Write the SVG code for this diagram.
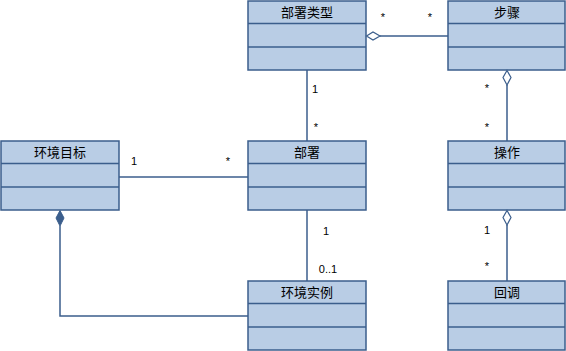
<svg xmlns="http://www.w3.org/2000/svg" width="566" height="351" viewBox="0 0 566 351">
<style>
.box{fill:#b9cde5;stroke:#3b5e8c;stroke-width:1.5}
.sep{stroke:#3b5e8c;stroke-width:1.5}
.t{font-family:"Liberation Sans","Noto Sans CJK SC",sans-serif;font-size:13px;fill:#000;text-anchor:middle}
.m{font-family:"Liberation Sans",Arial,sans-serif;font-size:11px;fill:#000;text-anchor:middle}
.c{fill:none;stroke:#3b5e8c;stroke-width:1.5}
</style>
<rect width="566" height="351" fill="#fff"/>
<g id="bushuleixing">
<rect class="box" x="248" y="1" width="118" height="69"/>
<line class="sep" x1="248" y1="23.5" x2="366" y2="23.5"/>
<line class="sep" x1="248" y1="47" x2="366" y2="47"/>
<text class="t" x="307" y="17">部署类型</text>
</g>
<g id="buzhou">
<rect class="box" x="448" y="1" width="117" height="69"/>
<line class="sep" x1="448" y1="23.5" x2="565" y2="23.5"/>
<line class="sep" x1="448" y1="47" x2="565" y2="47"/>
<text class="t" x="507" y="17">步骤</text>
</g>
<g id="huanjingmubiao">
<rect class="box" x="1" y="141" width="118" height="69"/>
<line class="sep" x1="1" y1="163.5" x2="119" y2="163.5"/>
<line class="sep" x1="1" y1="187" x2="119" y2="187"/>
<text class="t" x="60" y="157">环境目标</text>
</g>
<g id="bushu">
<rect class="box" x="248" y="141" width="118" height="69"/>
<line class="sep" x1="248" y1="163.5" x2="366" y2="163.5"/>
<line class="sep" x1="248" y1="187" x2="366" y2="187"/>
<text class="t" x="307" y="157">部署</text>
</g>
<g id="caozuo">
<rect class="box" x="448" y="141" width="117" height="69"/>
<line class="sep" x1="448" y1="163.5" x2="565" y2="163.5"/>
<line class="sep" x1="448" y1="187" x2="565" y2="187"/>
<text class="t" x="507" y="157">操作</text>
</g>
<g id="huanjingshili">
<rect class="box" x="248" y="281" width="118" height="69"/>
<line class="sep" x1="248" y1="303.5" x2="366" y2="303.5"/>
<line class="sep" x1="248" y1="327" x2="366" y2="327"/>
<text class="t" x="307" y="297">环境实例</text>
</g>
<g id="huidiao">
<rect class="box" x="448" y="281" width="117" height="69"/>
<line class="sep" x1="448" y1="303.5" x2="565" y2="303.5"/>
<line class="sep" x1="448" y1="327" x2="565" y2="327"/>
<text class="t" x="507" y="297">回调</text>
</g>
<g id="connectors">
<path class="c" d="M380,36 H448"/>
<path d="M366.5,36 L373,32 L380,36 L373,40 Z" fill="#fff" stroke="#3b5e8c" stroke-width="1.2"/>
<text class="m" x="383" y="21">*</text>
<text class="m" x="430" y="21">*</text>

<path class="c" d="M507,85 V141"/>
<path d="M507,70.5 L511,77.5 L507,85 L503,77.5 Z" fill="#fff" stroke="#3b5e8c" stroke-width="1.2"/>
<text class="m" x="487" y="92">*</text>
<text class="m" x="487" y="131">*</text>

<path class="c" d="M307,70 V141"/>
<text class="m" x="315" y="93">1</text>
<text class="m" x="316" y="131">*</text>

<path class="c" d="M119,177 H248"/>
<text class="m" x="134" y="165">1</text>
<text class="m" x="228" y="165">*</text>

<path class="c" d="M307,210 V281"/>
<text class="m" x="326" y="235">1</text>
<text class="m" x="328" y="273">0..1</text>

<path class="c" d="M507,225 V281"/>
<path d="M507,210.5 L511,217.5 L507,225 L503,217.5 Z" fill="#fff" stroke="#3b5e8c" stroke-width="1.2"/>
<text class="m" x="487" y="234">1</text>
<text class="m" x="487" y="270">*</text>

<path class="c" d="M60,226 V316 H248"/>
<path d="M60,210.5 L64,218 L60,226 L56,218 Z" fill="#3b5e8c" stroke="#3b5e8c" stroke-width="1"/>
</g>
</svg>
